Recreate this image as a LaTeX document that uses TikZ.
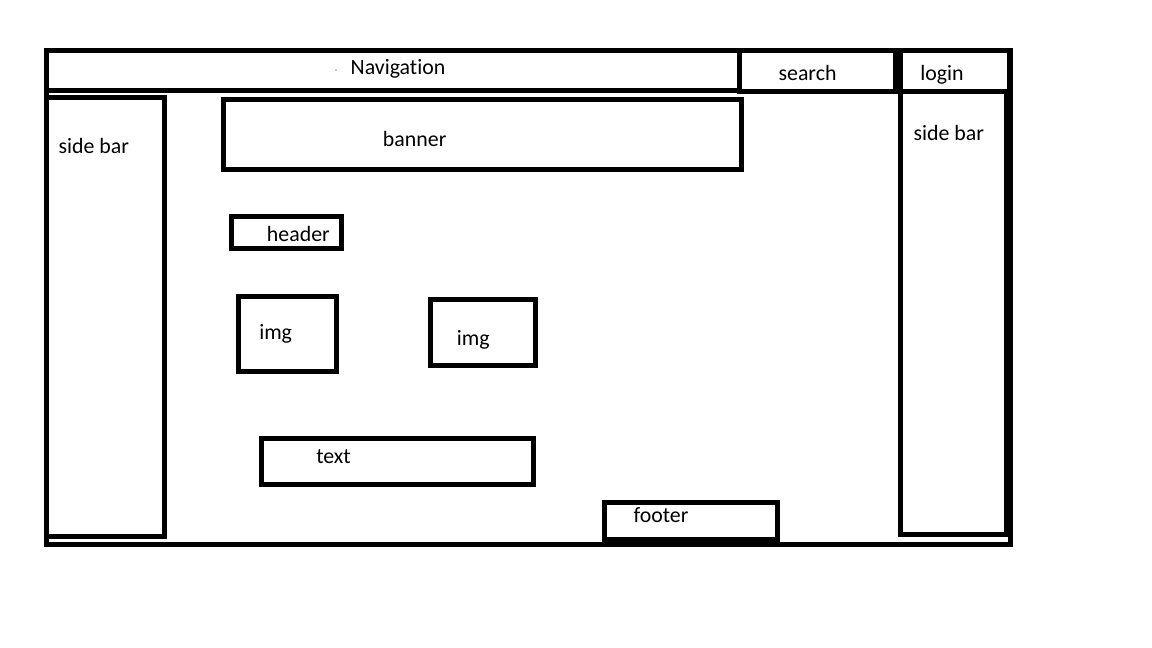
\documentclass[tikz,border=0pt]{standalone}
\usepackage{fontspec}
\setmainfont{Carlito}[Ligatures={NoCommon,NoContextual}]
\usetikzlibrary{fit}
\tikzset{
  box/.style={draw=black, line width=3.75pt, inner sep=0pt},
  frame/.style={draw=black, line width=4pt, inner sep=0pt},
  lbl/.style={anchor=base west, inner sep=0pt, font=\fontsize{16.4}{19}\selectfont, text=black}
}
\begin{document}
\begin{tikzpicture}[x=0.75pt,y=-0.75pt]
\useasboundingbox (0,0) rectangle (1152,648);
\fill[white] (0,0) rectangle (1152,648);
% outer frame and regions
\node[frame, fit={(46.5,50.8) (1010.5,544.2)}] (outer) {};
\node[box, fit={(46.5,50.8) (739.2,90.8)}] (nav) {};
\node[box, fit={(739.2,50.8) (895.2,91.5)}] (search) {};
\node[box, fit={(900.2,50.8) (1009.3,91.5)}] (login) {};
\node[box, fit={(900.3,91.5) (1006,534.3)}] (rside) {};
\node[box, fit={(46.5,97.5) (164.5,536)}] (lside) {};
\node[box, fit={(223,99.5) (741,169.5)}] (banner) {};
\node[box, fit={(231.7,216.7) (341.5,248.2)}] (header) {};
\node[box, fit={(238.5,296.8) (336,371)}] (imgA) {};
\node[box, fit={(430.8,299.2) (535.2,365.2)}] (imgB) {};
\node[box, fit={(261.7,438.2) (533.3,484.2)}] (textbox) {};
\node[box, fit={(604.8,502.5) (777.5,539)}] (footer) {};
% stray dot
\fill[black] (336,70) circle (0.6);
% labels
\node[lbl] (navlbl) at (350.4,74.3) {Navigation};
\node[lbl] (searchlbl) at (778.3,80.7) {search};
\node[lbl] (loginlbl) at (920,80.7) {login};
\node[lbl] (lsidelbl) at (58.3,154) {side bar};
\node[lbl] (rsidelbl) at (913.3,140.5) {side bar};
\node[lbl] (bannerlbl) at (382.7,146.7) {banner};
\node[lbl] (headerlbl) at (266.7,241.7) {header};
\node[lbl] (imgAlbl) at (259,339.3) {img};
\node[lbl] (imgBlbl) at (456.7,345) {img};
\node[lbl] (textlbl) at (316,463.3) {text};
\node[lbl] (footerlbl) at (633.3,522.3) {footer};
\end{tikzpicture}
\end{document}
